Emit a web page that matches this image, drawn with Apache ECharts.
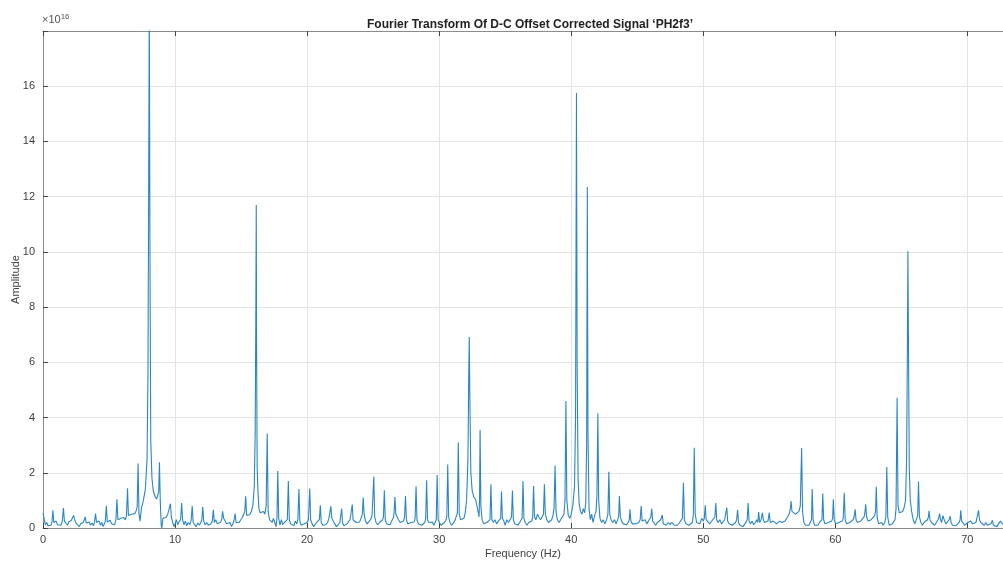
<!DOCTYPE html>
<html>
<head>
<meta charset="utf-8">
<title>Fourier Transform</title>
<script src="https://cdn.jsdelivr.net/npm/echarts/dist/echarts.min.js"></script>
<style>
  html, body { margin: 0; padding: 0; background: #fff; }
  #one { width: 1003px; height: 561px; }
</style>
</head>
<body>
<div id="one"></div>
<script>
// amplitude in units of 1e16, frequency in Hz
var band0 = [[0,0.55],[0.03,0.58],[0.1,0.3],[0.18,0.12],[0.28,0.2],[0.38,0.08],[0.5,0.15],[0.6,0.1],[0.68,0.22],[0.75,0.64],[0.82,0.2],[0.9,0.15],[1.0,0.25],[1.1,0.12],[1.22,0.18],[1.35,0.1],[1.45,0.22],[1.55,0.72],[1.62,0.25],[1.72,0.2],[1.85,0.1],[1.95,0.22],[2.05,0.15],[2.15,0.28],[2.25,0.32],[2.32,0.46],[2.4,0.3],[2.5,0.18],[2.62,0.12],[2.75,0.05],[2.85,0.15],[2.95,0.08],[3.05,0.2],[3.12,0.25],[3.2,0.4],[3.27,0.18],[3.38,0.15],[3.5,0.22],[3.6,0.1],[3.72,0.18],[3.82,0.08],[3.9,0.22],[3.98,0.52],[4.05,0.2],[4.15,0.15],[4.25,0.25],[4.35,0.1],[4.45,0.2],[4.55,0.05],[4.65,0.15],[4.72,0.25],[4.8,0.8],[4.87,0.22],[4.97,0.18],[5.08,0.28],[5.2,0.15],[5.32,0.22],[5.42,0.12],[5.52,0.3],[5.6,1.04],[5.67,0.3],[5.78,0.25],[5.9,0.35],[6.0,0.28],[6.12,0.38],[6.22,0.3],[6.32,0.42],[6.4,1.44],[6.47,0.45],[6.58,0.42],[6.7,0.5],[6.82,0.55],[6.95,0.52],[7.05,0.62],[7.13,0.75],[7.2,2.34],[7.27,0.5],[7.35,0.25],[7.45,0.7],[7.6,1.0],[7.75,1.4],[7.88,2.5],[7.95,5.5],[8.0,12],[8.05,19],[8.1,10],[8.16,3.2],[8.25,1.8],[8.35,1.35],[8.48,1.15],[8.6,1.05],[8.7,1.1],[8.76,1.3],[8.82,2.38],[8.88,1.0],[8.95,0.1],[9.0,0],[9.08,0.35],[9.2,0.4],[9.32,0.38],[9.45,0.5],[9.55,0.55],[9.65,0.88],[9.72,0.4],[9.82,0.2],[9.92,0.05]];
var band10 = [[10.0,0.15],[10.1,0.3],[10.2,0.12],[10.3,0.22],[10.42,0.3],[10.5,0.9],[10.57,0.3],[10.67,0.12],[10.78,0.25],[10.88,0.08],[11.0,0.2],[11.12,0.12],[11.22,0.28],[11.3,0.8],[11.37,0.2],[11.48,0.15],[11.6,0.05],[11.72,0.18],[11.85,0.1],[11.95,0.2],[12.03,0.3],[12.1,0.77],[12.17,0.25],[12.28,0.12],[12.4,0.2],[12.52,0.1],[12.62,0.05],[12.72,0.15],[12.82,0.25],[12.9,0.66],[12.97,0.2],[13.08,0.3],[13.2,0.15],[13.32,0.1],[13.45,0.22],[13.53,0.3],[13.6,0.6],[13.68,0.35],[13.78,0.28],[13.9,0.15],[14.02,0.1],[14.15,0.2],[14.28,0.05],[14.38,0.15],[14.47,0.28],[14.55,0.52],[14.62,0.2],[14.72,0.15],[14.85,0.2],[14.98,0.3],[15.1,0.38],[15.2,0.45],[15.28,0.6],[15.35,1.15],[15.42,0.45],[15.52,0.38],[15.65,0.48],[15.78,0.6],[15.9,0.85],[16.0,1.5],[16.07,3.5],[16.12,8],[16.15,11.7],[16.18,6],[16.22,2.2],[16.27,1.42],[16.35,0.7],[16.45,0.55],[16.58,0.5],[16.7,0.6],[16.8,0.5],[16.9,0.8],[16.98,3.42],[17.05,0.6],[17.15,0.3],[17.25,0.25],[17.35,0.2],[17.45,0.35],[17.55,0.2],[17.65,0.05],[17.72,0.4],[17.78,2.06],[17.85,0.35],[17.95,0.1],[18.05,0.3],[18.15,0.12],[18.28,0.2],[18.4,0.15],[18.5,0.3],[18.58,1.7],[18.65,0.3],[18.75,0.15],[18.88,0.2],[19.0,0.08],[19.1,0.25],[19.22,0.15],[19.3,0.3],[19.38,1.41],[19.45,0.25],[19.55,0.1],[19.65,0.05],[19.78,0.15],[19.9,0.1]];
var band20 = [[20.0,0.2],[20.1,0.3],[20.2,1.43],[20.27,0.3],[20.38,0.15],[20.5,0.05],[20.62,0.12],[20.72,0.2],[20.85,0.15],[20.93,0.3],[21.0,0.82],[21.07,0.2],[21.18,0.1],[21.3,0.05],[21.42,0.12],[21.55,0.2],[21.65,0.35],[21.72,0.4],[21.8,0.79],[21.87,0.35],[21.98,0.25],[22.1,0.15],[22.22,0.05],[22.35,0.1],[22.48,0.2],[22.55,0.25],[22.62,0.7],[22.68,0.2],[22.78,0.08],[22.9,0.05],[23.02,0.15],[23.15,0.22],[23.25,0.3],[23.35,0.35],[23.42,0.85],[23.48,0.3],[23.6,0.25],[23.72,0.2],[23.85,0.15],[23.98,0.22],[24.08,0.35],[24.18,0.5],[24.25,1.1],[24.32,0.5],[24.42,0.25],[24.55,0.15],[24.68,0.2],[24.8,0.3],[24.92,0.45],[25.05,1.86],[25.12,0.4],[25.22,0.2],[25.35,0.12],[25.48,0.2],[25.6,0.25],[25.72,0.3],[25.78,0.4],[25.85,1.37],[25.92,0.3],[26.02,0.15],[26.15,0.2],[26.28,0.12],[26.4,0.25],[26.52,0.35],[26.58,0.5],[26.65,1.12],[26.72,0.5],[26.82,0.45],[26.92,0.3],[27.05,0.2],[27.18,0.15],[27.3,0.25],[27.38,0.4],[27.45,1.16],[27.52,0.3],[27.62,0.15],[27.75,0.1],[27.88,0.2],[28.0,0.15],[28.1,0.22],[28.18,0.35],[28.25,1.51],[28.32,0.3],[28.42,0.15],[28.55,0.2],[28.68,0.1],[28.8,0.15],[28.92,0.2],[28.98,0.35],[29.05,1.73],[29.12,0.3],[29.22,0.2],[29.35,0.15],[29.48,0.22],[29.6,0.1],[29.72,0.15],[29.78,0.3],[29.85,1.92],[29.92,0.3]];
var band30 = [[30.02,0.2],[30.15,0.1],[30.28,0.05],[30.4,0.2],[30.5,0.28],[30.58,0.4],[30.65,2.3],[30.72,0.4],[30.82,0.2],[30.95,0.1],[31.05,0.15],[31.18,0.25],[31.3,0.3],[31.38,0.55],[31.45,3.1],[31.52,0.5],[31.62,0.3],[31.75,0.28],[31.88,0.35],[31.97,0.54],[32.08,1.0],[32.18,2.5],[32.24,5.5],[32.28,6.92],[32.33,4.5],[32.4,2.0],[32.5,1.35],[32.62,1.13],[32.75,1.05],[32.85,1.0],[32.95,0.6],[33.02,0.4],[33.06,1.0],[33.1,3.56],[33.16,0.8],[33.25,0.3],[33.38,0.15],[33.5,0.1],[33.62,0.2],[33.75,0.15],[33.85,0.3],[33.92,1.58],[33.99,0.3],[34.1,0.2],[34.22,0.3],[34.35,0.15],[34.48,0.25],[34.6,0.2],[34.66,0.35],[34.72,1.32],[34.79,0.35],[34.9,0.25],[35.0,0.1],[35.12,0.3],[35.25,0.2],[35.38,0.25],[35.48,0.4],[35.55,1.36],[35.62,0.3],[35.72,0.15],[35.85,0.2],[35.98,0.1],[36.1,0.2],[36.22,0.15],[36.28,0.35],[36.35,1.7],[36.42,0.35],[36.52,0.2],[36.65,0.1],[36.78,0.2],[36.9,0.15],[37.02,0.25],[37.08,0.4],[37.15,1.52],[37.22,0.4],[37.32,0.3],[37.45,0.5],[37.55,0.4],[37.68,0.3],[37.8,0.35],[37.9,0.5],[37.97,1.58],[38.04,0.5],[38.15,0.3],[38.28,0.2],[38.4,0.25],[38.52,0.3],[38.62,0.45],[38.7,0.7],[38.78,2.26],[38.85,0.6],[38.95,0.3],[39.08,0.2],[39.2,0.3],[39.32,0.35],[39.45,0.5],[39.53,1.0],[39.6,4.6],[39.67,1.0],[39.78,0.45],[39.9,0.35]];
var band40 = [[40.0,0.5],[40.12,0.8],[40.25,1.5],[40.33,4],[40.4,15.75],[40.45,6],[40.52,1.8],[40.6,0.9],[40.7,0.6],[40.82,0.5],[40.92,0.7],[41.02,0.55],[41.1,0.9],[41.17,3],[41.22,12.35],[41.27,3.5],[41.35,0.7],[41.45,0.3],[41.55,0.5],[41.65,0.2],[41.75,0.4],[41.88,0.6],[41.95,1.2],[42.02,4.16],[42.08,1.0],[42.18,0.35],[42.3,0.2],[42.42,0.3],[42.55,0.15],[42.68,0.3],[42.78,0.5],[42.85,2.04],[42.92,0.5],[43.02,0.3],[43.15,0.2],[43.28,0.3],[43.4,0.15],[43.52,0.3],[43.6,0.45],[43.65,1.16],[43.72,0.4],[43.82,0.25],[43.95,0.15],[44.08,0.2],[44.2,0.12],[44.32,0.2],[44.4,0.3],[44.45,0.68],[44.52,0.25],[44.62,0.15],[44.75,0.08],[44.88,0.15],[45.0,0.1],[45.12,0.2],[45.22,0.3],[45.3,0.8],[45.37,0.25],[45.48,0.2],[45.6,0.3],[45.72,0.15],[45.85,0.25],[45.95,0.3],[46.03,0.4],[46.1,0.7],[46.17,0.25],[46.28,0.2],[46.4,0.1],[46.52,0.2],[46.65,0.15],[46.78,0.3],[46.85,0.3],[46.9,0.47],[46.97,0.15],[47.08,0.2],[47.2,0.1],[47.35,0.2],[47.48,0.12],[47.6,0.2],[47.7,0.25],[47.8,0.1],[47.92,0.15],[48.05,0.1],[48.18,0.18],[48.3,0.2],[48.42,0.35],[48.5,1.64],[48.57,0.3],[48.68,0.15],[48.8,0.2],[48.92,0.1],[49.05,0.15],[49.18,0.2],[49.25,0.5],[49.32,2.91],[49.39,0.5],[49.5,0.2],[49.62,0.25],[49.75,0.15],[49.88,0.35]];
var band50 = [[50.0,0.25],[50.08,0.35],[50.15,0.82],[50.22,0.3],[50.35,0.25],[50.48,0.15],[50.6,0.2],[50.72,0.3],[50.82,0.25],[50.88,0.4],[50.95,0.9],[51.02,0.3],[51.12,0.2],[51.25,0.3],[51.38,0.15],[51.5,0.2],[51.62,0.3],[51.7,0.35],[51.78,0.74],[51.85,0.25],[51.95,0.15],[52.08,0.2],[52.2,0.1],[52.32,0.15],[52.45,0.2],[52.53,0.3],[52.6,0.66],[52.67,0.2],[52.78,0.1],[52.9,0.15],[53.02,0.05],[53.15,0.15],[53.25,0.2],[53.33,0.3],[53.4,0.9],[53.47,0.25],[53.58,0.15],[53.7,0.25],[53.82,0.12],[53.95,0.2],[54.05,0.3],[54.13,0.2],[54.2,0.58],[54.27,0.2],[54.38,0.3],[54.48,0.55],[54.55,0.3],[54.65,0.2],[54.78,0.15],[54.9,0.25],[55.0,0.56],[55.07,0.2],[55.18,0.15],[55.3,0.25],[55.42,0.2],[55.55,0.15],[55.68,0.2],[55.78,0.25],[55.85,0.3],[55.95,0.2],[56.08,0.15],[56.2,0.25],[56.35,0.3],[56.5,0.5],[56.6,0.7],[56.65,0.98],[56.72,0.6],[56.85,0.55],[56.98,0.5],[57.12,0.5],[57.25,0.6],[57.35,0.8],[57.45,2.9],[57.52,0.6],[57.62,0.2],[57.75,0.1],[57.88,0.05],[58.0,0.1],[58.12,0.15],[58.2,0.3],[58.25,1.41],[58.32,0.3],[58.42,0.1],[58.55,0.15],[58.68,0.1],[58.8,0.2],[58.92,0.15],[58.99,0.3],[59.05,1.25],[59.12,0.3],[59.22,0.15],[59.35,0.1],[59.48,0.2],[59.6,0.15],[59.72,0.25],[59.8,0.35],[59.85,1.04],[59.92,0.3]];
var band60 = [[60.02,0.15],[60.15,0.1],[60.28,0.2],[60.4,0.15],[60.52,0.25],[60.6,0.35],[60.68,1.28],[60.75,0.3],[60.85,0.15],[60.98,0.1],[61.1,0.2],[61.22,0.15],[61.35,0.3],[61.42,0.4],[61.5,0.68],[61.57,0.3],[61.68,0.2],[61.8,0.15],[61.92,0.25],[62.05,0.3],[62.18,0.4],[62.24,0.55],[62.3,0.86],[62.37,0.4],[62.48,0.25],[62.6,0.2],[62.72,0.3],[62.85,0.35],[62.98,0.45],[63.05,0.6],[63.1,1.49],[63.17,0.4],[63.28,0.15],[63.4,0.1],[63.52,0.2],[63.62,0.1],[63.75,0.2],[63.83,0.4],[63.9,2.21],[63.97,0.4],[64.08,0.1],[64.2,0.05],[64.32,0.15],[64.42,0.2],[64.52,0.3],[64.6,0.7],[64.68,4.72],[64.75,0.8],[64.85,0.55],[64.98,0.5],[65.1,0.6],[65.22,0.75],[65.32,1.0],[65.4,2.5],[65.46,6.5],[65.5,10.02],[65.55,6],[65.6,2.2],[65.68,1.0],[65.78,0.6],[65.9,0.3],[66.02,0.15],[66.15,0.2],[66.24,0.45],[66.3,1.68],[66.37,0.4],[66.48,0.2],[66.6,0.1],[66.72,0.2],[66.85,0.15],[66.98,0.3],[67.05,0.4],[67.1,0.62],[67.17,0.3],[67.28,0.2],[67.4,0.15],[67.52,0.1],[67.65,0.2],[67.78,0.3],[67.85,0.4],[67.9,0.52],[67.97,0.3],[68.05,0.2],[68.15,0.45],[68.25,0.3],[68.38,0.15],[68.5,0.2],[68.62,0.3],[68.7,0.43],[68.77,0.2],[68.88,0.1],[69.0,0.15],[69.12,0.08],[69.25,0.15],[69.38,0.2],[69.45,0.3],[69.5,0.64],[69.57,0.25],[69.68,0.2],[69.8,0.1],[69.92,0.15],[70.05,0.2],[70.15,0.15],[70.25,0.25],[70.3,0.3],[70.4,0.15],[70.52,0.1],[70.65,0.2],[70.75,0.25],[70.85,0.64],[70.92,0.3],[71.02,0.2],[71.15,0.25],[71.28,0.1],[71.4,0.2],[71.52,0.1],[71.65,0.05],[71.78,0.15],[71.9,0.28],[71.97,0.1],[72.1,0.15],[72.22,0.05],[72.35,0.12],[72.5,0.25],[72.6,0.2],[72.75,0.1]];

var xTicks = [0, 10, 20, 30, 40, 50, 60, 70];
var yTicks = [0, 2, 4, 6, 8, 10, 12, 14, 16];

var spectrum = [].concat(band0, band10, band20, band30, band40, band50, band60);

var myChart = echarts.init(document.getElementById('one'), null, { renderer: 'canvas' });

var axisGray = '#8c8c8c';
var labelColor = '#404040';
var font = 'Liberation Sans, Arial, Helvetica, sans-serif';

var option = {
    backgroundColor: '#ffffff',
    animation: false,
    title: {
        text: 'Fourier Transform Of D-C Offset Corrected Signal \u2018PH2f3\u2019',
        left: 525,
        textAlign: 'center',
        top: 14,
        textStyle: { fontFamily: font, fontSize: 12, fontWeight: 'bold', color: '#222' }
    },
    graphic: [{
        type: 'text',
        left: 42,
        top: 13,
        style: {
            text: '\u00d710{s|16}',
            fontFamily: font,
            fontSize: 11,
            fill: '#555',
            rich: { s: { fontSize: 8, verticalAlign: 'top', padding: [0, 0, 5, 0], fill: '#555' } }
        }
    }],
    grid: { left: 43, right: 0, top: 31, bottom: 33, containLabel: false, outerBoundsMode: 'none' },
    xAxis: [{
        type: 'value',
        min: 0,
        max: 72.7,
        interval: 10,
        name: 'Frequency (Hz)',
        nameLocation: 'middle',
        nameGap: 20,
        nameMoveOverlap: false,
        nameTextStyle: { fontFamily: font, fontSize: 11, color: labelColor },
        axisLine: { lineStyle: { color: axisGray, width: 1 } },
        axisTick: { inside: true, length: 5, lineStyle: { color: '#444' } },
        axisLabel: {
            fontFamily: font, fontSize: 11, color: labelColor, margin: 6,
            showMaxLabel: false,
            formatter: function (v) { return xTicks.indexOf(v) >= 0 ? String(v) : ''; }
        },
        splitLine: { show: true, lineStyle: { color: '#e3e3e3', width: 1 } }
    }, {
        // top box edge
        type: 'value',
        position: 'top',
        min: 0,
        max: 72.7,
        interval: 10,
        axisLine: { show: true, lineStyle: { color: axisGray, width: 1 } },
        axisTick: { show: true, inside: true, length: 5, lineStyle: { color: '#444' } },
        axisLabel: { show: false },
        splitLine: { show: false }
    }],
    yAxis: {
        type: 'value',
        min: 0,
        max: 18,
        interval: 2,
        name: 'Amplitude',
        nameLocation: 'middle',
        nameGap: 22,
        nameMoveOverlap: false,
        nameTextStyle: { fontFamily: font, fontSize: 11, color: labelColor },
        axisLine: { show: true, lineStyle: { color: axisGray, width: 1 } },
        axisTick: { show: true, inside: true, length: 5, lineStyle: { color: '#444' } },
        axisLabel: {
            fontFamily: font, fontSize: 11, color: labelColor, margin: 8,
            formatter: function (v) { return yTicks.indexOf(v) >= 0 ? String(v) : ''; }
        },
        splitLine: { show: true, lineStyle: { color: '#e3e3e3', width: 1 } }
    },
    series: [{
        type: 'line',
        data: spectrum,
        showSymbol: false,
        symbol: 'none',
        sampling: 'none',
        clip: true,
        lineStyle: { color: '#2b87c2', width: 1.1 },
        z: 3
    }]
};

myChart.setOption(option, true);
</script>
</body>
</html>
